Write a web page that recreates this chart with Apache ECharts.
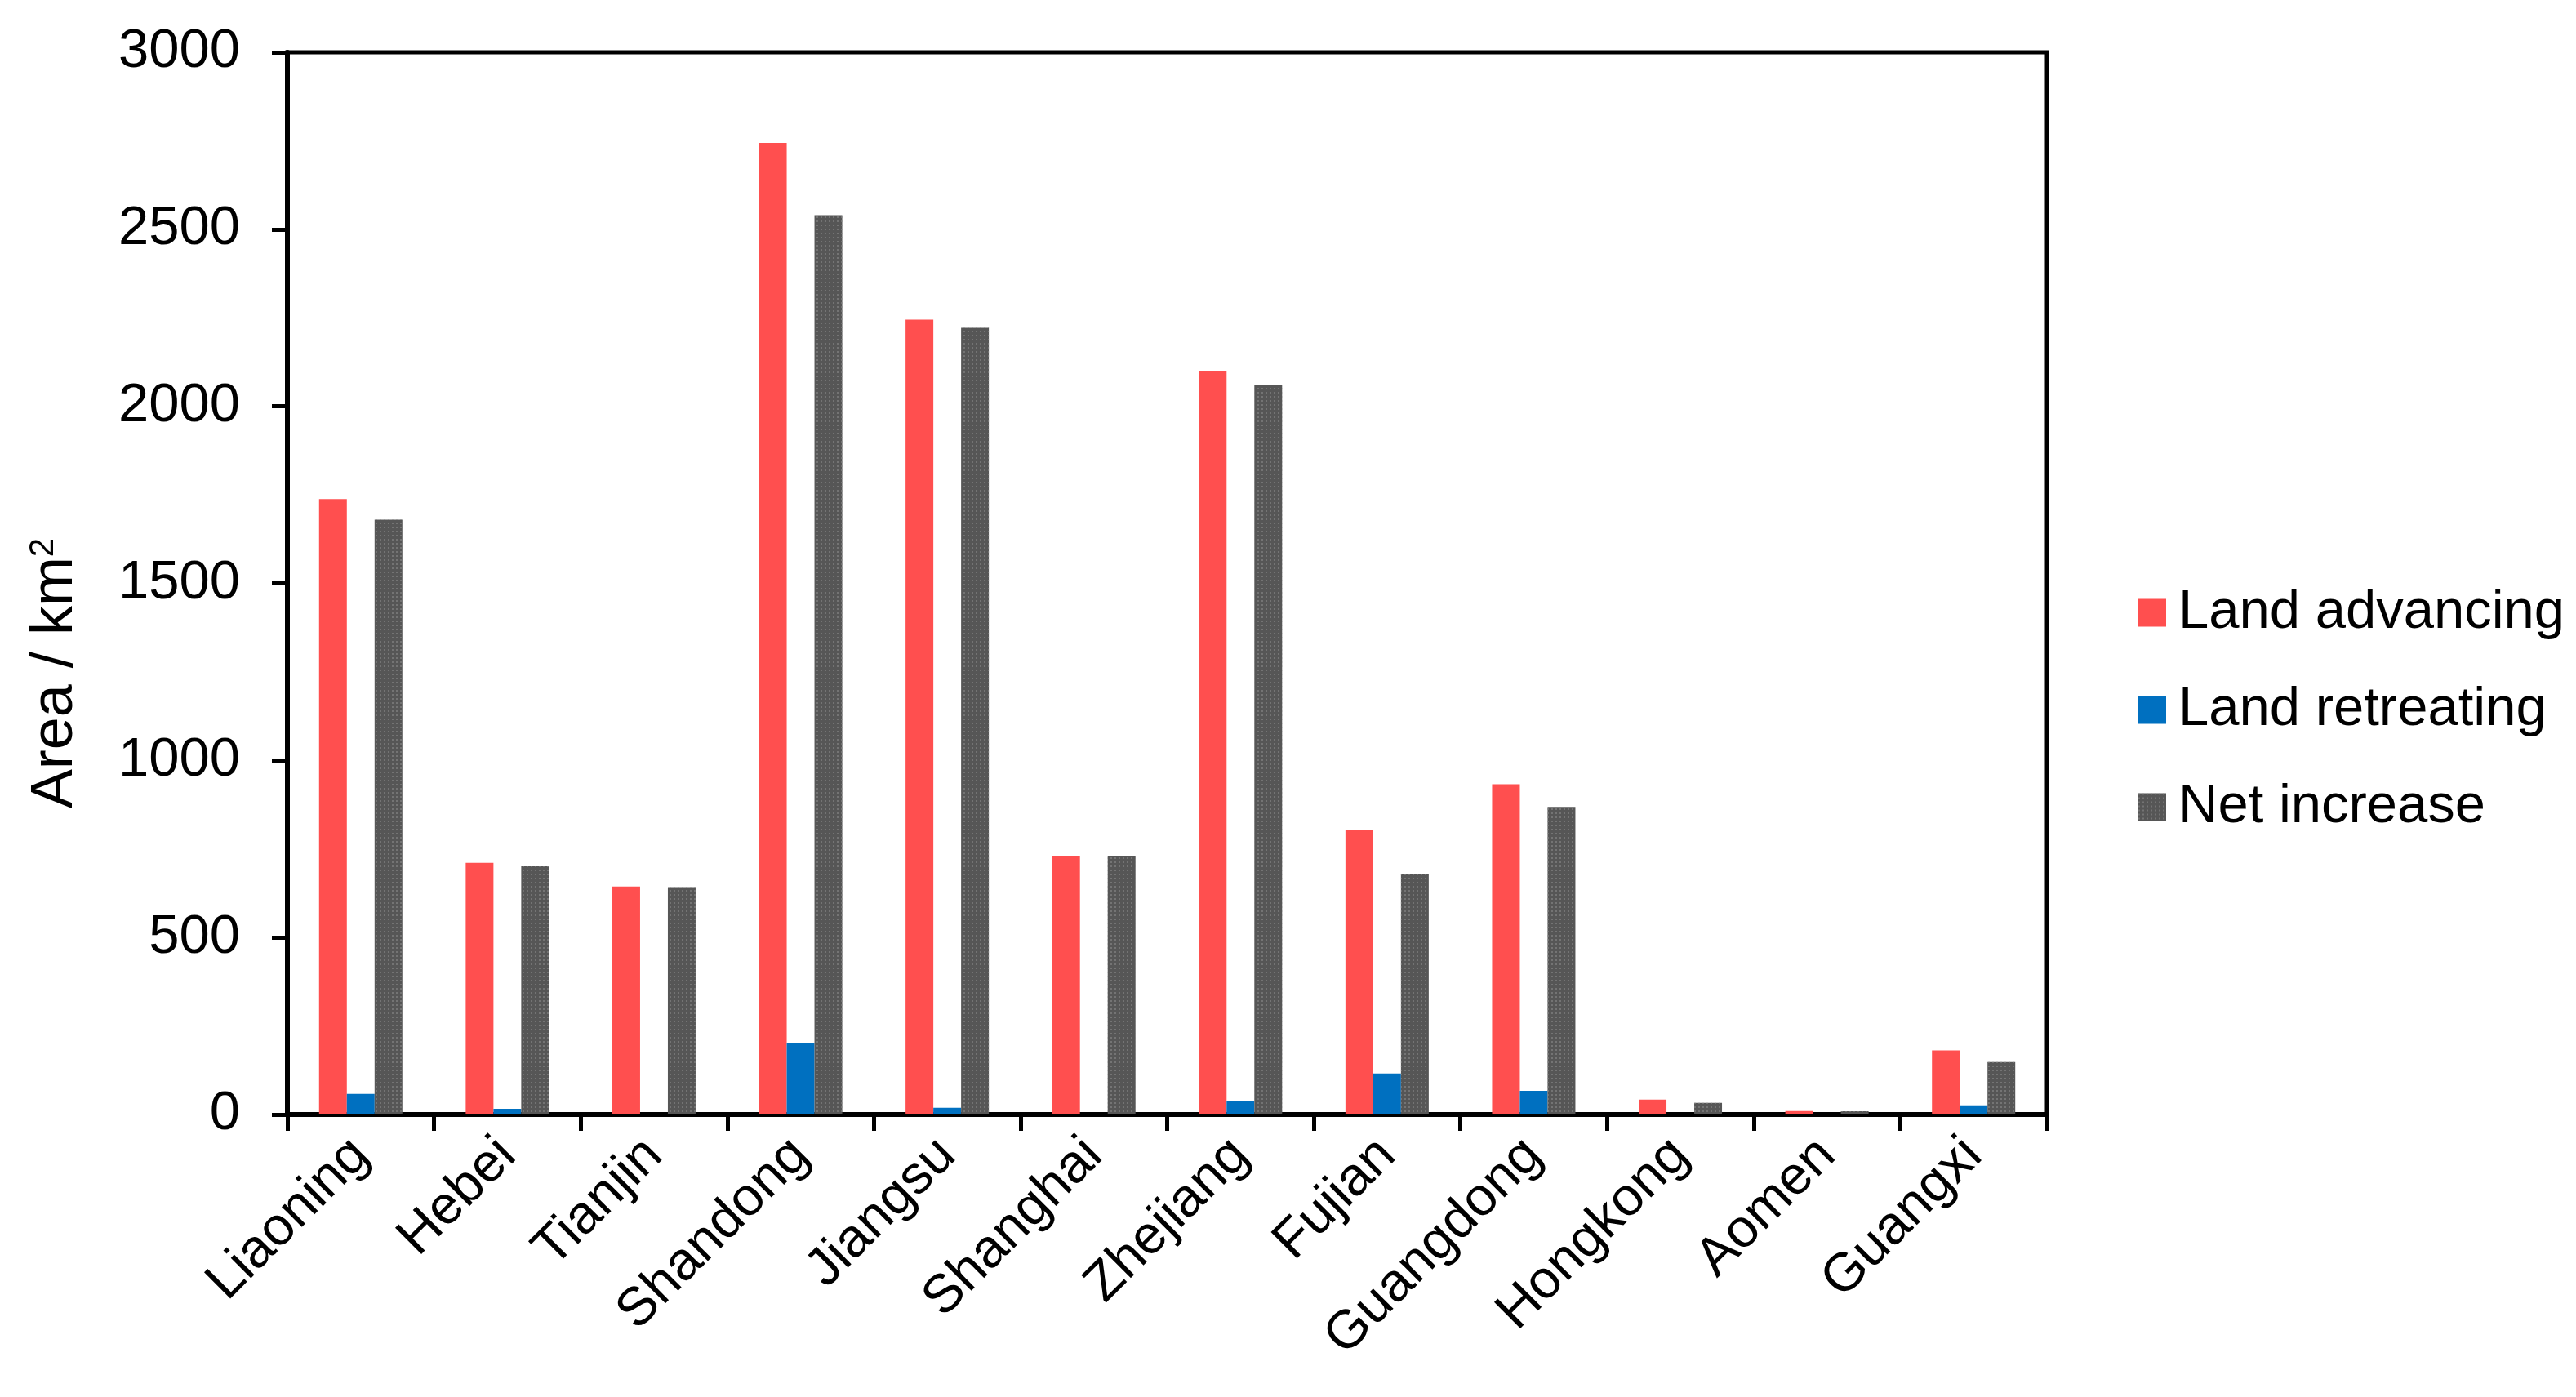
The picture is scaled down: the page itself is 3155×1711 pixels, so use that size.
<!DOCTYPE html>
<html>
<head>
<meta charset="utf-8">
<script src="https://cdn.jsdelivr.net/npm/echarts@6/dist/echarts.min.js"></script>
<style>
html,body{margin:0;padding:0;background:#fff;}
#chart{width:3155px;height:1711px;}
</style>
</head>
<body>
<div id="chart"></div>
<script>
const categories = ['Liaoning','Hebei','Tianjin','Shandong','Jiangsu','Shanghai','Zhejiang','Fujian','Guangdong','Hongkong','Aomen','Guangxi'];
const landAdvancing = [1738, 711, 644, 2744, 2245, 731, 2100, 803, 933, 42, 10, 181];
const landRetreating = [58, 16, 0, 201, 19, 0, 37, 116, 67, 0, 0, 26];
const netIncrease = [1680, 701, 642, 2540, 2222, 731, 2059, 679, 869, 33, 9, 148];
const yTicks = [0, 500, 1000, 1500, 2000, 2500, 3000];

const FONT = '"Liberation Sans", Arial, sans-serif';
const chart = echarts.init(document.getElementById('chart'));
chart.setOption({
  backgroundColor: '#ffffff',
  animation: false,
  textStyle: { fontFamily: FONT },
  grid: { left: 352, right: 648, top: 64, bottom: 346, show: true, borderColor: '#000', borderWidth: 5 },
  legend: {
    orient: 'vertical',
    left: 2614,
    top: 712,
    itemWidth: 34,
    itemHeight: 34,
    itemGap: 52,
    icon: 'rect',
    textStyle: { fontSize: 67, color: '#000', fontFamily: FONT, padding: [0, 0, 0, 10], lineHeight: 66 },
    data: ['Land advancing', 'Land retreating', 'Net increase']
  },
  xAxis: {
    type: 'category',
    data: categories,
    boundaryGap: true,
    axisLine: { lineStyle: { color: '#000', width: 6 } },
    axisTick: { show: true, length: 20, lineStyle: { color: '#000', width: 5 } },
    axisLabel: { rotate: 45, fontSize: 66, color: '#000', margin: 40, fontFamily: FONT, interval: 0 }
  },
  yAxis: {
    type: 'value',
    min: yTicks[0],
    max: yTicks[yTicks.length - 1],
    interval: 500,
    name: 'Area / km{sup|2}',
    nameLocation: 'middle',
    nameGap: 248,
    nameTextStyle: {
      fontSize: 72, color: '#000', fontFamily: FONT,
      padding: [0, 220, 0, 0],
      rich: { sup: { fontSize: 42, verticalAlign: 'top', padding: [0, 0, 30, 0], color: '#000', fontFamily: FONT } }
    },
    splitLine: { show: false },
    axisLine: { show: true, lineStyle: { color: '#000', width: 6 } },
    axisTick: { show: true, length: 19, lineStyle: { color: '#000', width: 5 } },
    axisLabel: { fontSize: 67, color: '#000', margin: 58, fontFamily: FONT, formatter: function (v) { return String(v); } }
  },
  series: [
    { name: 'Land advancing', type: 'bar', data: landAdvancing, barWidth: 34, barGap: '0%', itemStyle: { color: '#FF4F4F' } },
    { name: 'Land retreating', type: 'bar', data: landRetreating, barWidth: 34, barGap: '0%', itemStyle: { color: '#0070C0' } },
    { name: 'Net increase', type: 'bar', data: netIncrease, barWidth: 34, barGap: '0%',
      itemStyle: { color: '#565656', decal: { symbol: 'rect', symbolSize: 1, color: 'rgba(130,130,130,0.7)', dashArrayX: [2, 3], dashArrayY: [2, 3], rotation: 0 } } }
  ]
});
</script>
</body>
</html>
